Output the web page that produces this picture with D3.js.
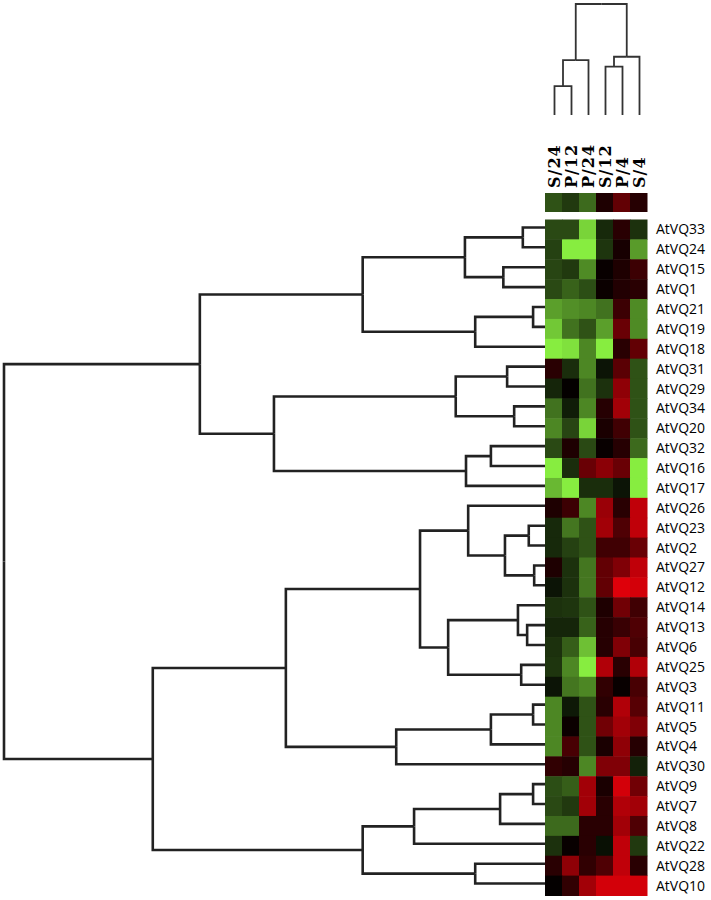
<!DOCTYPE html>
<html>
<head>
<meta charset="utf-8">
<script src="https://cdn.jsdelivr.net/npm/d3@7"></script>
<style>
  body { margin: 0; background: #fff; }
</style>
</head>
<body>
<svg id="chart" width="711" height="900"></svg>
<script>
// rows, top to bottom, in dendrogram order
const rowNames = ["AtVQ33", "AtVQ24", "AtVQ15", "AtVQ1", "AtVQ21", "AtVQ19", "AtVQ18",
  "AtVQ31", "AtVQ29", "AtVQ34", "AtVQ20", "AtVQ32", "AtVQ16", "AtVQ17",
  "AtVQ26", "AtVQ23", "AtVQ2", "AtVQ27", "AtVQ12", "AtVQ14", "AtVQ13", "AtVQ6",
  "AtVQ25", "AtVQ3", "AtVQ11", "AtVQ5", "AtVQ4", "AtVQ30", "AtVQ9", "AtVQ7",
  "AtVQ8", "AtVQ22", "AtVQ28", "AtVQ10"];

const colNames = ["S/24", "P/12", "P/24", "S/12", "P/4", "S/4"];

// log-ratio per row, one value per column (green < 0 < red)
const values = [
  [-0.9, -0.9, -2.6, -0.5, 0.55, -0.6],
  [-0.8, -2.9, -2.9, -0.65, 0.3, -1.9],
  [-0.85, -0.7, -1.7, 0.1, 0.4, 0.8],
  [-0.9, -1.2, -0.95, 0.15, 0.45, 0.55],
  [-1.95, -1.75, -1.65, -1.4, 0.8, -1.7],
  [-2.45, -1.4, -1.0, -1.95, 1.4, -1.7],
  [-2.9, -2.75, -1.65, -2.9, 0.55, 1.3],
  [0.55, -0.55, -1.65, -0.25, 1.2, -1.0],
  [-0.45, 0.05, -1.4, -0.6, 1.9, -1.0],
  [-1.4, -0.35, -1.65, 0.5, 2.15, -1.0],
  [-1.65, -0.85, -2.6, 0.35, 0.85, -1.0],
  [-0.9, 0.4, -0.9, 0.1, 0.5, -1.3],
  [-2.9, -0.55, 1.4, 1.85, 1.4, -2.9],
  [-2.25, -2.9, -0.55, -0.55, -0.25, -2.9],
  [0.4, 0.8, -1.65, 2.05, 0.55, 2.55],
  [-0.5, -1.45, -1.0, 2.15, 1.05, 2.55],
  [-0.5, -0.8, -1.0, 0.85, 0.85, 1.4],
  [0.4, -0.6, -1.45, 1.3, 1.7, 2.55],
  [-0.25, -0.6, -1.45, 1.3, 2.95, 2.8],
  [-0.6, -0.65, -1.0, 0.4, 1.5, 0.85],
  [-0.45, -0.45, -1.2, 0.5, 0.75, 1.05],
  [-0.6, -1.15, -2.35, 0.5, 1.7, 0.95],
  [-0.65, -1.65, -2.9, 2.35, 0.55, 2.35],
  [-0.25, -1.45, -1.65, 0.65, 0.1, 0.95],
  [-1.65, -0.3, -1.0, 0.55, 2.35, 1.15],
  [-1.65, 0.15, -1.0, 1.5, 2.15, 1.7],
  [-1.65, 0.95, -1.0, 0.35, 1.9, 0.5],
  [0.65, 0.5, -1.65, 1.7, 1.7, -0.4],
  [-0.95, -1.15, 2.15, 0.35, 2.8, 1.5],
  [-0.9, -0.7, 2.15, 0.55, 2.35, 2.15],
  [-1.3, -1.3, 0.55, 0.55, 2.15, 1.05],
  [-0.6, 0.1, 0.55, -0.2, 2.55, -0.7],
  [0.55, 1.9, 0.65, 1.05, 2.55, 0.55],
  [0.05, 0.65, 2.15, 2.8, 2.8, 2.8]
];

// column summary strip under the labels
const colSummary = [-1.0, -0.7, -1.3, 0.4, 1.3, 0.5];

// linkage: [a, b, distance]; ids >= n leaves refer to earlier merges
const rowLinkage = [
  [0, 1, 0.041], [2, 3, 0.077], [34, 35, 0.148], [4, 5, 0.022], [37, 6, 0.129],
  [36, 38, 0.337], [7, 8, 0.070], [9, 10, 0.057], [40, 41, 0.165], [11, 12, 0.100],
  [43, 13, 0.146], [42, 44, 0.501], [39, 45, 0.638], [15, 16, 0.030], [17, 18, 0.020],
  [47, 48, 0.074], [14, 49, 0.142], [20, 21, 0.033], [19, 51, 0.050], [22, 23, 0.044],
  [52, 53, 0.179], [50, 54, 0.231], [24, 25, 0.022], [56, 26, 0.100], [57, 27, 0.275],
  [55, 58, 0.479], [28, 29, 0.022], [60, 30, 0.083], [61, 31, 0.242], [32, 33, 0.129],
  [62, 63, 0.337], [59, 64, 0.725], [46, 65, 1.0]
];

const colLinkage = [
  [0, 1, 0.261], [6, 2, 0.495], [3, 4, 0.435], [8, 5, 0.525], [7, 9, 1.0]
];

const svg = d3.select('#chart');

const heatLeft = 545, heatRight = 647, heatTop = 219.5, heatBottom = 895.5;

const xScale = d3.scaleBand().domain(d3.range(colNames.length)).range([heatLeft, heatRight]);
const yScale = d3.scaleBand().domain(d3.range(rowNames.length)).range([heatTop, heatBottom]);

const color = d3.scaleLinear()
  .domain([-3, 0, 3])
  .range(['#8cf542', '#000000', '#e2000a'])
  .clamp(true);

function buildTree(n, linkage) {
  const nodes = d3.range(n).map(i => ({ leaf: i, dist: 0 }));
  linkage.forEach(([a, b, h]) => nodes.push({ dist: h, children: [nodes[a], nodes[b]] }));
  return d3.hierarchy(nodes[nodes.length - 1]);
}

// ---- heatmap cells
const cells = [];
values.forEach((row, r) => row.forEach((v, c) => cells.push({ r, c, v })));

svg.append('g')
  .selectAll('rect')
  .data(cells)
  .enter()
  .append('rect')
  .attr('x', d => xScale(d.c))
  .attr('y', d => yScale(d.r))
  .attr('width', xScale.bandwidth() + 0.5)
  .attr('height', yScale.bandwidth() + 0.5)
  .attr('fill', d => color(d.v));

// ---- summary strip
svg.append('g')
  .selectAll('rect')
  .data(colSummary)
  .enter()
  .append('rect')
  .attr('x', (d, i) => xScale(i))
  .attr('y', 193)
  .attr('width', xScale.bandwidth() + 0.5)
  .attr('height', 19)
  .attr('fill', d => color(d));

// ---- row labels
svg.append('g')
  .selectAll('text')
  .data(rowNames)
  .enter()
  .append('text')
  .attr('x', 656)
  .attr('y', (d, i) => yScale(i) + yScale.bandwidth() / 2)
  .attr('dy', '0.36em')
  .style('font-family', '"Open Sans", sans-serif')
  .style('font-size', '14px')
  .attr('fill', '#000')
  .text(d => d);

// ---- column labels
svg.append('g')
  .selectAll('text')
  .data(colNames)
  .enter()
  .append('text')
  .attr('transform', (d, i) => `translate(${xScale(i) + xScale.bandwidth() / 2 + 6},188) rotate(-90)`)
  .style('font-family', '"DejaVu Serif", serif')
  .style('font-weight', 'bold')
  .style('font-size', '16px')
  .style('letter-spacing', '1px')
  .attr('fill', '#000')
  .text(d => d);

// ---- row dendrogram
const rowRoot = buildTree(rowNames.length, rowLinkage);
const rowDist = d3.scaleLinear().domain([0, 1]).range([heatLeft, 4]);
rowRoot.eachAfter(n => {
  n.py = n.children ? d3.mean(n.children, c => c.py) : yScale(n.data.leaf) + yScale.bandwidth() / 2 - 2;
  n.px = rowDist(n.data.dist);
});

svg.append('g')
  .attr('fill', 'none')
  .attr('stroke', '#222')
  .attr('stroke-width', 2.6)
  .selectAll('path')
  .data(rowRoot.links())
  .enter()
  .append('path')
  .attr('d', l => `M${l.source.px},${l.source.py}V${l.target.py}H${l.target.px}`);

// ---- column dendrogram
const colRoot = buildTree(colNames.length, colLinkage);
const colDist = d3.scaleLinear().domain([0, 1]).range([115, 4]);
colRoot.eachAfter(n => {
  n.px = n.children ? d3.mean(n.children, c => c.px) : xScale(n.data.leaf) + xScale.bandwidth() / 2 + 1;
  n.py = colDist(n.data.dist);
});

svg.append('g')
  .attr('fill', 'none')
  .attr('stroke', '#333')
  .attr('stroke-width', 1.8)
  .selectAll('path')
  .data(colRoot.links())
  .enter()
  .append('path')
  .attr('d', l => `M${l.source.px},${l.source.py}H${l.target.px}V${l.target.py}`);
</script>
</body>
</html>
